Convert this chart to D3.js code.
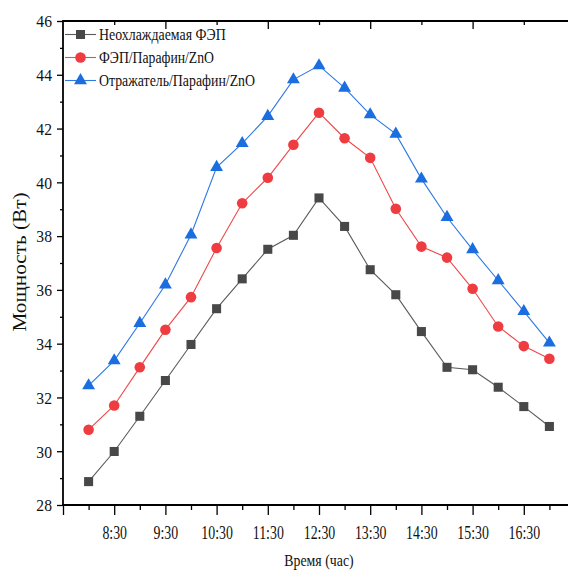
<!DOCTYPE html>
<html>
<head>
<meta charset="utf-8">
<script src="https://cdn.jsdelivr.net/npm/d3@7"></script>
<style>
  html, body { margin: 0; padding: 0; background: #fff; }
  svg { display: block; }
  text { font-family: "Liberation Serif", "Times New Roman", serif; fill: #111; }
</style>
</head>
<body>
<svg id="chart" width="568" height="571"></svg>
<script>
// ---- data ----
const times = ["8:00","8:30","9:00","9:30","10:00","10:30","11:00","11:30","12:00","12:30",
               "13:00","13:30","14:00","14:30","15:00","15:30","16:00","16:30","17:00"];
const seriesNames = ["Неохлаждаемая ФЭП", "ФЭП/Парафин/ZnO", "Отражатель/Парафин/ZnO"];
const uncooled = [28.87, 29.99, 31.30, 32.63, 33.97, 35.30, 36.41, 37.51, 38.03, 39.42,
                  38.36, 36.75, 35.82, 34.45, 33.12, 33.03, 32.38, 31.66, 30.92];
const pcmZnO   = [30.80, 31.70, 33.12, 34.52, 35.73, 37.56, 39.22, 40.17, 41.40, 42.59,
                  41.64, 40.91, 39.02, 37.61, 37.20, 36.04, 34.64, 33.91, 33.44];
const reflector = [32.44, 33.37, 34.76, 36.19, 38.05, 40.56, 41.45, 42.46, 43.82, 44.34,
                   43.51, 42.52, 41.80, 40.13, 38.70, 37.50, 36.35, 35.20, 34.03];
const xTickLabels = ["8:30","9:30","10:30","11:30","12:30","13:30","14:30","15:30","16:30"];
const yTickValues = [28, 30, 32, 34, 36, 38, 40, 42, 44, 46];
const xTitle = "Время (час)";
const yTitle = "Мощность (Вт)";

// ---- helpers ----
const toH = s => { const [h, m] = s.split(":").map(Number); return h + m / 60; };

const svg = d3.select("#chart");
const x = d3.scaleLinear().domain([7.5, 17.5]).range([63, 575]);
const y = d3.scaleLinear().domain([28, 46]).range([505, 21]);

function squeeze(sel, k) {
  sel.each(function () {
    const L = this.getComputedTextLength();
    d3.select(this).attr("textLength", L * k).attr("lengthAdjust", "spacingAndGlyphs");
  });
}

// ---- axes ----
const axisColor = "#000";
const majorX = ["7:30"].concat(xTickLabels).map(toH);
const minorX = times.filter(t => t.endsWith(":00")).map(toH);

const gxMinor = svg.append("g").attr("transform", `translate(0,${y(28)})`)
  .call(d3.axisBottom(x).tickValues(minorX).tickSize(5).tickFormat(""));
const gx = svg.append("g").attr("transform", `translate(0,${y(28)})`)
  .call(d3.axisBottom(x).tickValues(majorX).tickSize(10)
        .tickFormat(v => { const h = Math.floor(v); return h === 7 ? "" : h + ":30"; }));
gx.selectAll("text").attr("y", 34).attr("dy", null)
  .style("font-size", "18px").style("font-family", "Liberation Serif").attr("fill", "#111");
squeeze(gx.selectAll("text").filter(function(){ return this.textContent !== ""; }), 0.77);

// top axis: alternating tick lengths, inward
const topLarge = ["9:30","11:30","13:30","15:30"].map(toH);
const topSmall = ["8:30","10:30","12:30","14:30","16:30"].map(toH);
const gtL = svg.append("g").attr("transform", `translate(0,${y(46)})`)
  .call(d3.axisTop(x).tickValues(topLarge).tickSize(-8).tickFormat(""));
const gtS = svg.append("g").attr("transform", `translate(0,${y(46)})`)
  .call(d3.axisTop(x).tickValues(topSmall).tickSize(-4).tickFormat(""));

// left axis
const yMinor = d3.range(29, 46, 2);
const gyMinor = svg.append("g").attr("transform", `translate(${x(7.5)},0)`)
  .call(d3.axisLeft(y).tickValues(yMinor).tickSize(3).tickFormat(""));
const gy = svg.append("g").attr("transform", `translate(${x(7.5)},0)`)
  .call(d3.axisLeft(y).tickValues(yTickValues).tickSize(6).tickPadding(5));
gy.selectAll("text").style("font-size", "17px").style("font-family", "Liberation Serif")
  .attr("fill", "#111").attr("dy", "0.34em");
squeeze(gy.selectAll("text"), 0.92);

[gxMinor, gx, gtL, gtS, gyMinor, gy].forEach(g => {
  g.selectAll(".domain").remove();
  g.selectAll("line").attr("stroke", axisColor).attr("stroke-width", 1.3);
});

// frame lines: left, top, bottom (extend to right edge)
svg.append("line").attr("x1", x(7.5)).attr("x2", x(7.5)).attr("y1", y(46)).attr("y2", y(28))
  .attr("stroke", axisColor).attr("stroke-width", 1.8);
svg.append("line").attr("x1", x(7.5) - 0.9).attr("x2", 568).attr("y1", y(46)).attr("y2", y(46))
  .attr("stroke", axisColor).attr("stroke-width", 1.8);
svg.append("line").attr("x1", x(7.5) - 0.9).attr("x2", 568).attr("y1", y(28)).attr("y2", y(28))
  .attr("stroke", axisColor).attr("stroke-width", 1.8);

// ---- series ----
const series = [
  { name: seriesNames[0], values: uncooled,  line: "#5a5a5a", fill: "#484848", sym: d3.symbolSquare,   size: 82 },
  { name: seriesNames[1], values: pcmZnO,    line: "#ee4848", fill: "#ee3c40", sym: d3.symbolCircle,   size: 88 },
  { name: seriesNames[2], values: reflector, line: "#2c78e4", fill: "#1b6ee0", sym: d3.symbolTriangle, size: 72 }
];

const lineGen = d3.line().x((d, i) => x(toH(times[i]))).y(d => y(d));

series.forEach(s => {
  svg.append("path").datum(s.values).attr("d", lineGen)
    .attr("fill", "none").attr("stroke", s.line).attr("stroke-width", 1.1);
});
series.forEach(s => {
  svg.append("g").selectAll("path").data(s.values).join("path")
    .attr("transform", (d, i) => `translate(${x(toH(times[i]))},${y(d)})`)
    .attr("d", d3.symbol().type(s.sym).size(s.size))
    .attr("fill", s.fill);
});

// ---- legend ----
const legendRows = [34.5, 57.5, 80.5];
const legendWidths = [126.7, 115, 156];
series.forEach((s, i) => {
  const g = svg.append("g").attr("transform", `translate(0,${legendRows[i]})`);
  g.append("line").attr("x1", 65).attr("x2", 96).attr("y1", 0).attr("y2", 0)
    .attr("stroke", s.line).attr("stroke-width", 1.1);
  g.append("path").attr("transform", "translate(80.5,0)")
    .attr("d", d3.symbol().type(s.sym).size(s.size)).attr("fill", s.fill);
  g.append("text").attr("x", 99).attr("y", 0).attr("dy", "0.35em")
    .style("font-size", "17px").text(s.name)
    .attr("textLength", legendWidths[i]).attr("lengthAdjust", "spacingAndGlyphs");
});

// ---- titles ----
svg.append("text").attr("x", 319).attr("y", 566).attr("text-anchor", "middle")
  .style("font-size", "17px").text(xTitle)
  .attr("textLength", 69.3).attr("lengthAdjust", "spacingAndGlyphs");
svg.append("text").attr("transform", "translate(26,262) rotate(-90)").attr("text-anchor", "middle")
  .style("font-size", "18px").text(yTitle)
  .attr("textLength", 139).attr("lengthAdjust", "spacingAndGlyphs");
</script>
</body>
</html>
